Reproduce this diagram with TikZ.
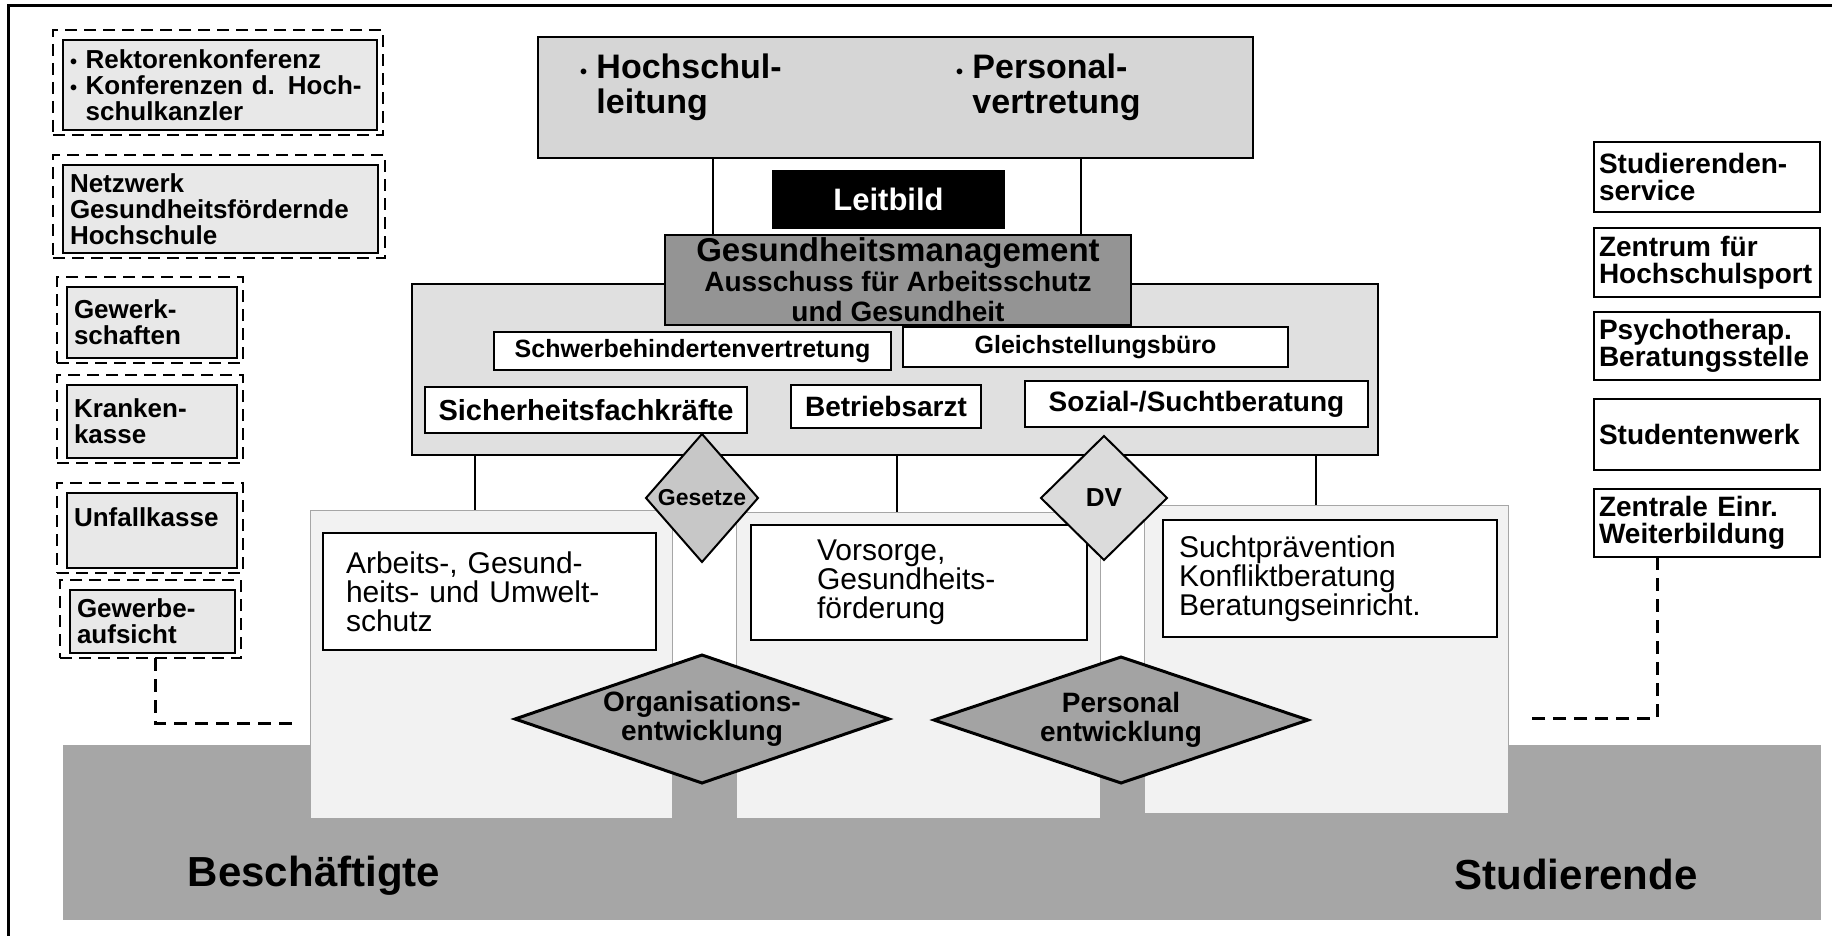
\documentclass[tikz,border=0pt]{standalone}
\usepackage{fontspec}
\setmainfont{Liberation Sans}
\usetikzlibrary{shapes.geometric}

\newcommand\pxfont[2]{\fontsize{#1}{#2}\selectfont}
\newcommand\dotmark{{\pxfont{20}{20}\textbullet}}

\begin{document}
\begin{tikzpicture}[x=1pt,y=-1pt,
    every node/.style={inner sep=0pt,outer sep=0pt},
    box/.style={draw,line width=2pt},
    extbox/.style={box,fill=black!9,anchor=north west,align=left,inner xsep=7pt,
        font=\bfseries\pxfont{26}{26}},
    extframe/.style={draw,line width=2pt,dash pattern=on 12pt off 7pt,anchor=north west},
    unibox/.style={box,line width=1.6pt,fill=white,anchor=north west,align=left,inner xsep=5pt,
        font=\bfseries\pxfont{28}{27}},
    unit/.style={box,fill=white,font=\bfseries\pxfont{25}{25}},
    field/.style={draw=black!35,line width=0.8pt,fill=black!5,anchor=north west},
    task/.style={box,fill=white,anchor=north west,align=left,font=\pxfont{30}{29}},
    rule/.style={diamond,aspect=0.9,draw,line width=2pt,fill=black!22,font=\bfseries\pxfont{23}{23}},
    dev/.style={diamond,aspect=2.9,draw,line width=3pt,fill=black!36,align=center,font=\bfseries\pxfont{28}{29}},
    link/.style={line width=1.4pt},
    extlink/.style={line width=3pt,dash pattern=on 13pt off 8pt}]

    \useasboundingbox (0,0) rectangle (1832,936);

    % frame
    \draw[line width=3pt] (8,936) -- (8,6) -- (1832,6);

    % Beschaeftigte / Studierende
    \node[anchor=north west,fill=black!35,minimum width=1758pt,minimum height=175pt] (band) at (63,745) {};
    \node[font=\bfseries\pxfont{42}{42}] (bs) at (314,876) {Beschäftigte};
    \node[font=\bfseries\pxfont{42}{42}] (st) at (1576,874) {Studierende};

    % Handlungsfelder
    \node[field,minimum width=362pt,minimum height=308pt] (p1) at (310,510) {};
    \node[field,minimum width=364pt,minimum height=306pt] (p2) at (736,512) {};
    \node[field,minimum width=364pt,minimum height=308pt] (p3) at (1144,505) {};

    \node[task,minimum width=333pt,minimum height=117pt,text width=287pt,inner xsep=23pt] (ab) at (323,533)
        {Arbeits-, Gesund-\\heits- und Umwelt-\\schutz};
    \node[task,minimum width=336pt,minimum height=115pt,text width=204pt,inner xsep=66pt] (vs) at (751,525)
        {Vorsorge,\\Gesundheits-\\förderung};
    \node[task,minimum width=334pt,minimum height=117pt,text width=302pt,inner xsep=16pt] (sp) at (1163,520)
        {Suchtprävention\\Konfliktberatung\\Beratungseinricht.};

    % Ausschuss
    \node[box,fill=black!12,anchor=north west,minimum width=966pt,minimum height=171pt] (cm) at (412,284) {};
    \node[unit,minimum width=397pt,minimum height=38pt] (sb) at (692.5,351) {Schwerbehindertenvertretung};
    \node[unit,minimum width=385pt,minimum height=40pt] (gb) at (1095.5,347) {Gleichstellungsbüro};
    \node[unit,minimum width=322pt,minimum height=46pt,font=\bfseries\pxfont{29}{29}] (sf) at (586,410) {Sicherheitsfachkräfte};
    \node[unit,minimum width=190pt,minimum height=43pt,font=\bfseries\pxfont{28}{28}] (ba) at (886,406.5) {Betriebsarzt};
    \node[unit,minimum width=343pt,minimum height=46pt,font=\bfseries\pxfont{28}{28}] (sz) at (1196.5,404) {Sozial-/Suchtberatung};

    % Leitung
    \node[box,fill=black!16,anchor=north west,minimum width=715pt,minimum height=121pt] (lead) at (538,37) {};
    \node[anchor=north west,align=left,font=\bfseries\pxfont{34}{35}] (hl) at (580,54)
        {\dotmark\ Hochschul-\\\phantom{\dotmark\ }leitung};
    \node[anchor=north west,align=left,font=\bfseries\pxfont{34}{35}] (pv) at (956,54)
        {\dotmark\ Personal-\\\phantom{\dotmark\ }vertretung};
    \node[fill=black,text=white,minimum width=233pt,minimum height=59pt,font=\bfseries\pxfont{31}{31}] (lb) at (888.5,199.5) {Leitbild};

    \node[box,fill=black!42,minimum width=466pt,minimum height=90pt,align=center,font=\bfseries\pxfont{28}{30}] (gm) at (898,280)
        {{\pxfont{33}{30}Gesundheitsmanagement}\\Ausschuss für Arbeitsschutz\\und Gesundheit};

    \coordinate (c1) at (713,0);
    \coordinate (c2) at (1081,0);
    \draw[link] (lead.south -| c1) -- (gm.north -| c1);
    \draw[link] (lead.south -| c2) -- (gm.north -| c2);

    \coordinate (c3) at (475,0);
    \coordinate (c4) at (897,0);
    \coordinate (c5) at (1316,0);
    \draw[link] (cm.south -| c3) -- (p1.north -| c3);
    \draw[link] (cm.south -| c4) -- (p2.north -| c4);
    \draw[link] (cm.south -| c5) -- (p3.north -| c5);

    % Rauten
    \node[rule,minimum width=112pt,minimum height=128pt] (gz) at (702,498) {Gesetze};
    \node[rule,fill=black!14,minimum width=126pt,minimum height=124pt,font=\bfseries\pxfont{26}{26}] (dv) at (1104,498) {DV};
    \node[dev,minimum width=374pt,minimum height=128pt] (oe) at (702,719) {Organisations-\\entwicklung};
    \node[dev,minimum width=374pt,minimum height=126pt] (pe) at (1121,720) {Personal\\entwicklung};

    % externe Partner
    \node[extframe,minimum width=330pt,minimum height=105pt] (rkf) at (53,30) {};
    \node[extbox,minimum width=314pt,minimum height=90pt,text width=300pt] (rk) at (63,40)
        {\dotmark\ Rektorenkonferenz\\\dotmark\ Konferenzen d. Hoch-\\\phantom{\dotmark\ }schulkanzler};
    \node[extframe,minimum width=332pt,minimum height=103pt] (nwf) at (53,155) {};
    \node[extbox,minimum width=315pt,minimum height=88pt,text width=301pt] (nw) at (63,165)
        {Netzwerk\\Gesundheitsfördernde\\Hochschule};
    \node[extframe,minimum width=186pt,minimum height=86pt] (gwf) at (57,277) {};
    \node[extbox,minimum width=170pt,minimum height=71pt,text width=156pt] (gw) at (67,287) {Gewerk-\\schaften};
    \node[extframe,minimum width=186pt,minimum height=88pt] (kkf) at (57,375) {};
    \node[extbox,minimum width=170pt,minimum height=73pt,text width=156pt] (kk) at (67,385) {Kranken-\\kasse};
    \node[extframe,minimum width=186pt,minimum height=90pt] (ukf) at (57,483) {};
    \node[extbox,minimum width=170pt,minimum height=75pt,text width=156pt] (uk) at (67,493) {Unfallkasse\\\mbox{}};
    \node[extframe,minimum width=181pt,minimum height=78pt] (gaf) at (60,580) {};
    \node[extbox,minimum width=165pt,minimum height=63pt,text width=151pt] (ga) at (70,590) {Gewerbe-\\aufsicht};

    % Einrichtungen fuer Studierende
    \node[unibox,minimum width=226pt,minimum height=70pt,text width=216pt] (ss) at (1594,142) {Studierenden-\\service};
    \node[unibox,minimum width=226pt,minimum height=69pt,text width=216pt] (zh) at (1594,228) {Zentrum für\\Hochschulsport};
    \node[unibox,minimum width=226pt,minimum height=68pt,text width=216pt] (pb) at (1594,312) {Psychotherap.\\Beratungsstelle};
    \node[unibox,minimum width=226pt,minimum height=71pt,text width=216pt] (sw) at (1594,399) {Studentenwerk};
    \node[unibox,minimum width=226pt,minimum height=68pt,text width=216pt] (ze) at (1594,489) {Zentrale Einr.\\Weiterbildung};

    \coordinate (lx) at (155,0);
    \coordinate (lend) at (297,723);
    \draw[extlink] (gaf.south -| lx) |- (lend);
    \coordinate (rx) at (1657,0);
    \coordinate (rend) at (1532,718);
    \draw[extlink] (ze.south -| rx) |- (rend);
\end{tikzpicture}
\end{document}
